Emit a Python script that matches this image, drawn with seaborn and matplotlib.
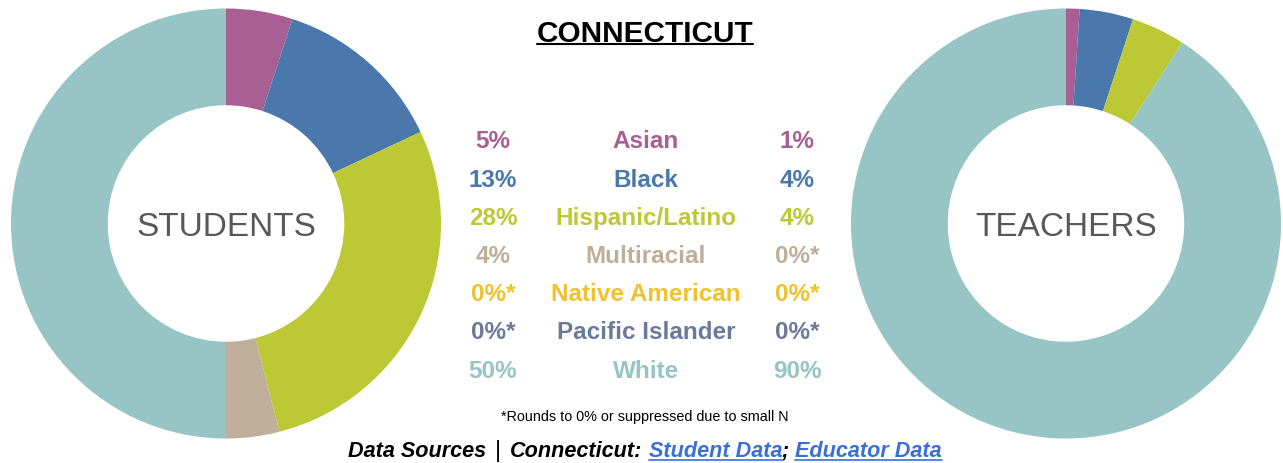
import matplotlib
matplotlib.use("Agg")
import matplotlib.pyplot as plt
import seaborn as sns
from matplotlib.lines import Line2D

# Dados
grupos = ["Asian", "Black", "Hispanic/Latino", "Multiracial",
          "Native American", "Pacific Islander", "White"]
alunos = [5, 13, 28, 4, 0, 0, 50]
professores = [1, 4, 4, 0, 0, 0, 90]
cores = ["#A85F93", "#4A78AC", "#BCC834", "#BFAE99",
         "#F2C12E", "#6C7A99", "#97C4C4"]

titulo = "CONNECTICUT"
nota = "*Rounds to 0% or suppressed due to small N"

sns.set_style("white")
plt.rcParams["font.family"] = ["Liberation Sans", "DejaVu Sans"]

W, H = 1283, 464
fig = plt.figure(figsize=(W / 100, H / 100), dpi=100)


def fx(px):
    return px / W


def fy(py):
    return 1 - py / H


def rotulo(v):
    return f"{v}%" + ("*" if v == 0 else "")


def donut(cx, cy, r, valores, texto):
    ax = fig.add_axes([fx(cx - r), (H - cy - r) / H, 2 * r / W, 2 * r / H])
    ax.pie(valores, colors=sns.color_palette(cores), startangle=90,
           counterclock=False, radius=1,
           wedgeprops=dict(width=0.45, linewidth=0))
    ax.set_xlim(-1, 1)
    ax.set_ylim(-1, 1)
    ax.set_aspect("equal")
    ax.axis("off")
    fig.text(fx(cx), fy(cy + 12), texto, ha="center", va="baseline",
             fontsize=24, color="#58585C")
    return ax


donut(226, 224.5, 215, alunos, "STUDENTS")
donut(1066, 224.5, 215, professores, "TEACHERS")

# Tabela central
ys = [139, 178, 216, 254, 292, 330, 369]
for g, a, p, c, y in zip(grupos, alunos, professores, cores, ys):
    yb = fy(y + 8.7)
    fig.text(fx(493), yb, rotulo(a), ha="center", va="baseline",
             fontsize=17.5, fontweight="bold", color=c)
    fig.text(fx(646), yb, g, ha="center", va="baseline",
             fontsize=17.5, fontweight="bold", color=c)
    fig.text(fx(797), yb, rotulo(p), ha="center", va="baseline",
             fontsize=17.5, fontweight="bold", color=c)

t = fig.text(fx(645), fy(42), titulo, ha="center", va="baseline",
             fontsize=21.4, fontweight="bold", color="black")
fig.text(fx(645), fy(421), nota, ha="center", va="baseline",
         fontsize=10.4, color="black")

# Linha das fontes: (texto, cor, sublinhado, espaço depois, negrito/itálico)
partes = [("Data Sources", "black", False, 9, True),
          ("|", "black", False, 9, False),
          ("Connecticut:", "black", False, 6, True),
          ("Student Data", "#3A6FD8", True, 0, True),
          (";", "black", False, 6, True),
          ("Educator Data", "#3A6FD8", True, 0, True)]
objs = []
for s, c, u, g, b in partes:
    objs.append(fig.text(0, fy(457), s, ha="left", va="baseline",
                         fontsize=15.6 if b else 17,
                         fontweight="bold" if b else "normal",
                         style="italic" if b else "normal", color=c))
fig.canvas.draw()
r = fig.canvas.get_renderer()
larg = [o.get_window_extent(r).width for o in objs]
total = sum(larg) + sum(p[3] for p in partes)
x = 645 - total / 2
for o, (s, c, u, g, b), w in zip(objs, partes, larg):
    o.set_x(fx(x))
    if u:
        fig.add_artist(Line2D([fx(x), fx(x + w)], [fy(460.5), fy(460.5)],
                              color=c, lw=1.2))
    x += w + g

bb = t.get_window_extent(r)
fig.add_artist(Line2D([bb.x0 / W, bb.x1 / W], [fy(45), fy(45)],
                      color="black", lw=1.5))

fig.savefig("out.png", dpi=100)
